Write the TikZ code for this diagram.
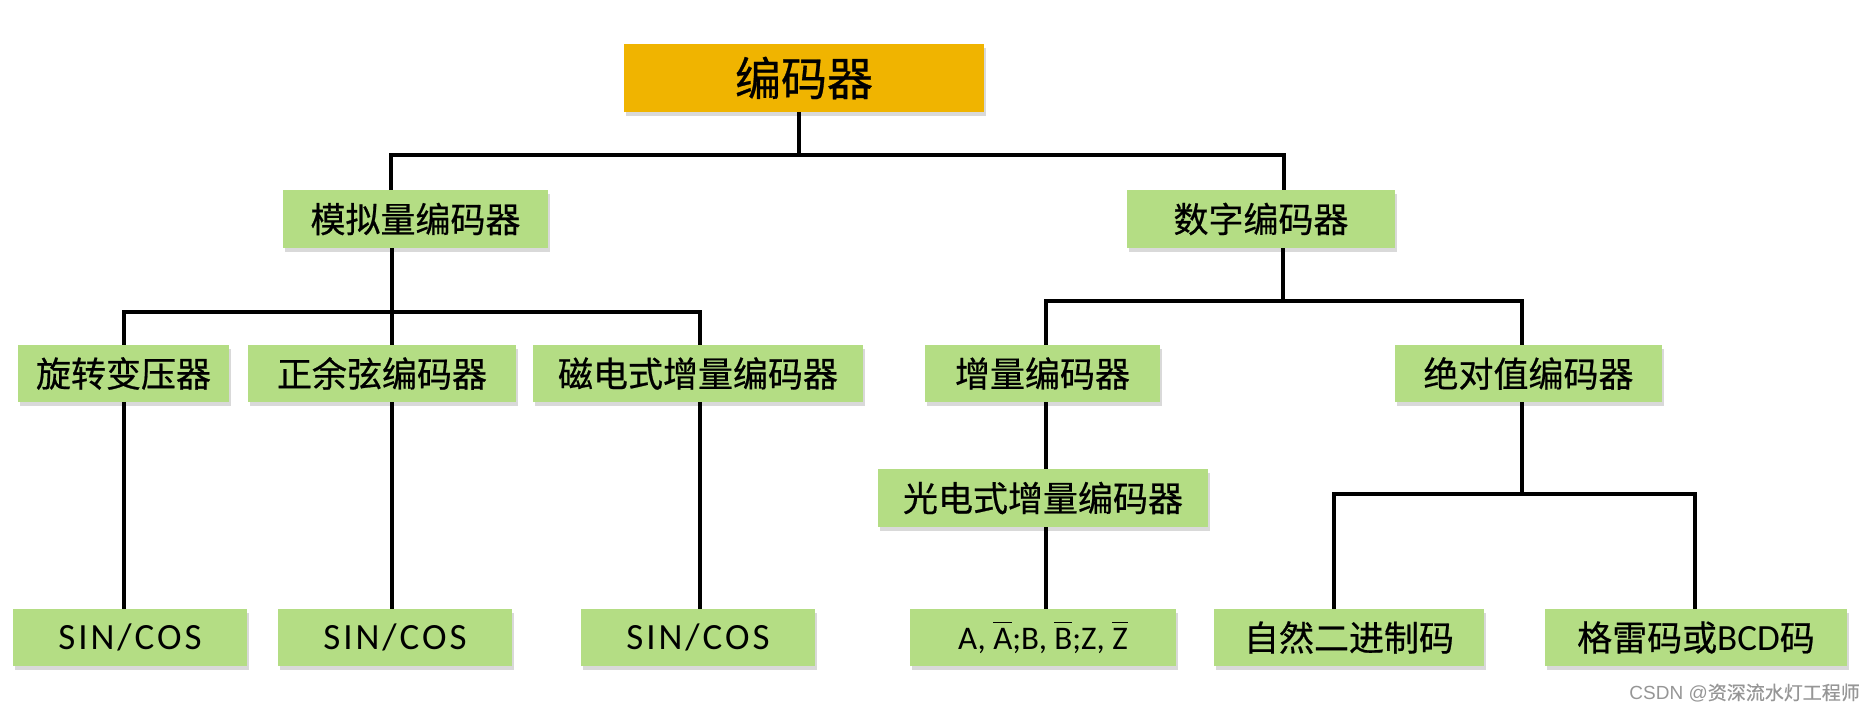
\documentclass[tikz,border=0pt]{standalone}
\usepackage{fontspec}
\setmainfont{Carlito}
\newfontfamily\cjk[FakeBold=0.6]{Noto Sans CJK SC}
\newfontfamily\lat{Carlito}
\newfontfamily\latsp[LetterSpace=8]{Carlito}
\newfontfamily\wmf{Liberation Sans}
\usetikzlibrary{shadows}
\definecolor{gold}{RGB}{240,180,0}
\definecolor{leaf}{RGB}{180,221,132}
\definecolor{wm}{RGB}{150,150,150}
\newcommand{\ovl}[1]{\leavevmode\vbox{\hrule height 1.6pt\kern 5pt\hbox{#1}}}
\tikzset{
  box/.style={fill=leaf, inner sep=0pt, minimum height=57pt, text=black,
    font=\cjk\fontsize{35}{40}\selectfont,
    drop shadow={shadow xshift=1.5pt, shadow yshift=-4pt, opacity=0.3}},
  latinbox/.style={box, font=\latsp\fontsize{37}{42}\selectfont},
  rootbox/.style={box, fill=gold, minimum height=68pt, font=\cjk\fontsize{46}{50}\selectfont},
  conn/.style={line width=3.3pt, black, line join=miter},
}
\begin{document}
\begin{tikzpicture}[x=1pt,y=-1pt]
\useasboundingbox (0,0) rectangle (1876,712);
% nodes
\node[rootbox, minimum width=360pt] (root) at (804,78) {编码器};
\node[box, minimum width=265pt, minimum height=58pt] (ana) at (415.5,219) {模拟量编码器};
\node[box, minimum width=268pt, minimum height=58pt] (dig) at (1261,219) {数字编码器};
\node[box, minimum width=211pt] (rot) at (123.5,373.5) {旋转变压器};
\node[box, minimum width=268pt] (sin) at (382,373.5) {正余弦编码器};
\node[box, minimum width=330pt] (mag) at (698,373.5) {磁电式增量编码器};
\node[box, minimum width=235pt] (inc) at (1042.5,373.5) {增量编码器};
\node[box, minimum width=267pt] (abs) at (1528.5,373.5) {绝对值编码器};
\node[box, minimum width=330pt, minimum height=58pt] (opt) at (1043,498) {光电式增量编码器};
\node[latinbox, minimum width=234pt] (b1) at (130,637.5) {SIN/COS};
\node[latinbox, minimum width=234pt] (b2) at (395,637.5) {SIN/COS};
\node[latinbox, minimum width=234pt] (b3) at (698,637.5) {SIN/COS};
\node[latinbox, minimum width=266pt, font=\lat\fontsize{33}{38}\selectfont] (b4) at (1043,637.5) {A, \ovl{A};B, \ovl{B};Z, \ovl{Z}};
\node[box, minimum width=270pt] (b5) at (1349,637.5) {自然二进制码};
\node[box, minimum width=302pt] (b6) at (1696,637.5) {格雷码或{\lat\fontsize{37}{42}\selectfont BCD}码};
\node[text=wm, font=\wmf\fontsize{19}{21}\selectfont, anchor=east, inner sep=0pt] (wmk) at (1860,693) {CSDN @{\cjk 资深流水灯工程师}};
% junction coordinates
\coordinate (h1M) at (799,155);
\coordinate (h1L) at (391,155);
\coordinate (h1R) at (1284,155);
\coordinate (h2M) at (392,312);
\coordinate (h2L) at (124,312);
\coordinate (h2C) at (392,312);
\coordinate (h2R) at (700,312);
\coordinate (h3M) at (1283,301);
\coordinate (h3L) at (1046,301);
\coordinate (h3R) at (1522,301);
\coordinate (h4M) at (1522,494);
\coordinate (h4L) at (1334,494);
\coordinate (h4R) at (1695,494);
% connectors
\draw[conn] (root.south -| h1M) -- (h1M);
\draw[conn] (ana.north -| h1L) -- (h1L) -- (h1R) -- (dig.north -| h1R);
\draw[conn] (ana.south -| h2M) -- (h2M);
\draw[conn] (rot.north -| h2L) -- (h2L) -- (h2R) -- (mag.north -| h2R);
\draw[conn] (h2C) -- (sin.north -| h2C);
\draw[conn] (rot.south -| h2L) -- (b1.north -| h2L);
\draw[conn] (sin.south -| h2C) -- (b2.north -| h2C);
\draw[conn] (mag.south -| h2R) -- (b3.north -| h2R);
\draw[conn] (dig.south -| h3M) -- (h3M);
\draw[conn] (inc.north -| h3L) -- (h3L) -- (h3R) -- (abs.north -| h3R);
\draw[conn] (inc.south -| h3L) -- (opt.north -| h3L);
\draw[conn] (opt.south -| h3L) -- (b4.north -| h3L);
\draw[conn] (abs.south -| h4M) -- (h4M);
\draw[conn] (b5.north -| h4L) -- (h4L) -- (h4R) -- (b6.north -| h4R);
\end{tikzpicture}
\end{document}
